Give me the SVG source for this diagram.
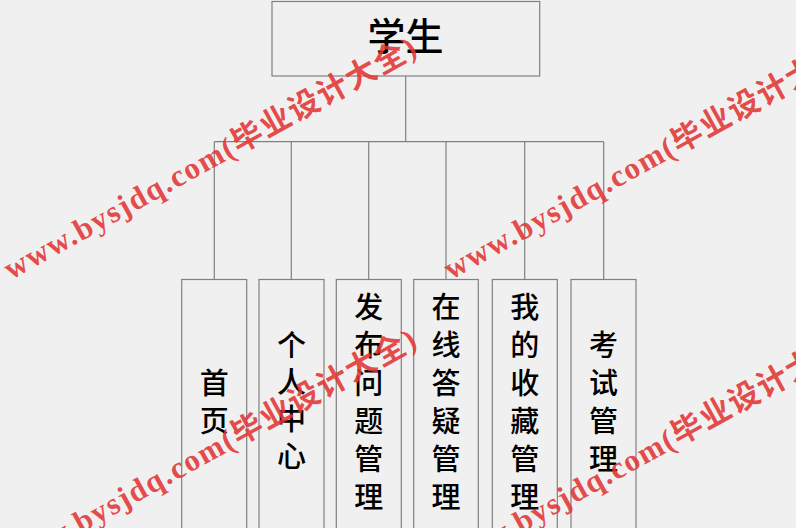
<svg xmlns="http://www.w3.org/2000/svg" width="796" height="528" viewBox="0 0 796 528">
<style>
.bg{fill:#f0f0f0}
.box{fill:#f0f0f0;stroke:#808080;stroke-width:1.2}
.ln{fill:none;stroke:#808080;stroke-width:1.2}
.t{font-family:"Noto Sans CJK SC","Noto Sans",sans-serif;fill:#000;text-anchor:middle;font-weight:500}
.top{font-size:38px}
.ch{font-size:29px}
.wm{font-family:"Liberation Serif","Noto Sans CJK SC",serif;font-size:31px;fill:#e33535;fill-opacity:0.9;font-weight:bold}
</style>
<rect class="bg" x="0" y="0" width="796" height="528"/>
<g id="connectors">
<path class="ln" d="M405.7 76V141.7M214.3 141.7H603.7M214.3 141.7V279.5M291.3 141.7V279.5M368.7 141.7V279.5M446 141.7V279.5M524.7 141.7V279.5M603.7 141.7V279.5"/>
</g>
<g id="n-student">
<rect class="box" x="272" y="1.5" width="267.7" height="74.5"/>
<text class="t top" x="405.5" y="49.5">学生</text>
</g>
<g id="n-home">
<rect class="box" x="181.7" y="279.5" width="65" height="260"/>
<text class="t ch" x="214.2" y="394">首<tspan x="214.2" dy="38">页</tspan></text>
</g>
<g id="n-personal">
<rect class="box" x="259" y="279.5" width="65" height="260"/>
<text class="t ch" x="291.5" y="356">个<tspan x="291.5" dy="37">人</tspan><tspan x="291.5" dy="37">中</tspan><tspan x="291.5" dy="37">心</tspan></text>
</g>
<g id="n-question">
<rect class="box" x="336.3" y="279.5" width="65" height="260"/>
<text class="t ch" x="368.8" y="318">发<tspan x="368.8" dy="38">布</tspan><tspan x="368.8" dy="38">问</tspan><tspan x="368.8" dy="38">题</tspan><tspan x="368.8" dy="38">管</tspan><tspan x="368.8" dy="38">理</tspan></text>
</g>
<g id="n-answer">
<rect class="box" x="413.7" y="279.5" width="64.6" height="260"/>
<text class="t ch" x="446" y="318">在<tspan x="446" dy="38">线</tspan><tspan x="446" dy="38">答</tspan><tspan x="446" dy="38">疑</tspan><tspan x="446" dy="38">管</tspan><tspan x="446" dy="38">理</tspan></text>
</g>
<g id="n-favorite">
<rect class="box" x="492.3" y="279.5" width="65" height="260"/>
<text class="t ch" x="524.8" y="318">我<tspan x="524.8" dy="38">的</tspan><tspan x="524.8" dy="38">收</tspan><tspan x="524.8" dy="38">藏</tspan><tspan x="524.8" dy="38">管</tspan><tspan x="524.8" dy="38">理</tspan></text>
</g>
<g id="n-exam">
<rect class="box" x="571" y="279.5" width="65" height="260"/>
<text class="t ch" x="603.5" y="356">考<tspan x="603.5" dy="38">试</tspan><tspan x="603.5" dy="38">管</tspan><tspan x="603.5" dy="38">理</tspan></text>
</g>
<g id="watermarks">
<text class="wm" transform="translate(11 280) rotate(-29)" textLength="466" lengthAdjust="spacing">www.bysjdq.com(毕业设计大全)</text>
<text class="wm" transform="translate(451 280) rotate(-29)" textLength="466" lengthAdjust="spacing">www.bysjdq.com(毕业设计大全)</text>
<text class="wm" transform="translate(11 572) rotate(-29)" textLength="466" lengthAdjust="spacing">www.bysjdq.com(毕业设计大全)</text>
<text class="wm" transform="translate(451 572) rotate(-29)" textLength="466" lengthAdjust="spacing">www.bysjdq.com(毕业设计大全)</text>
</g>
</svg>
